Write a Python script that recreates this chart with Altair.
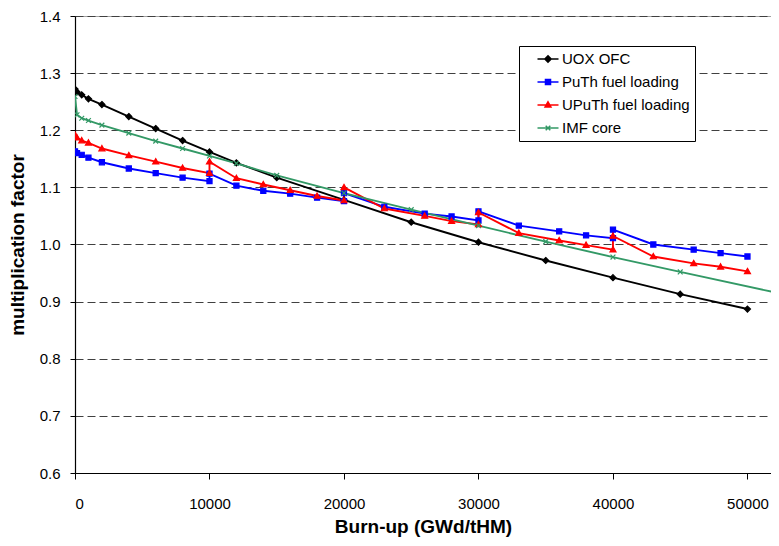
import altair as alt
import pandas as pd

series_names = ["UOX OFC", "PuTh fuel loading", "UPuTh fuel loading", "IMF core"]
series_colors = ["#000000", "#0000FF", "#FF0000", "#339966"]

uox_x = [0, 150, 500, 1000, 2000, 4000, 6000, 8000, 10000, 12000, 15000, 20000,
         25000, 30000, 35000, 40000, 45000, 50000]
uox_y = [1.272, 1.267, 1.262, 1.255, 1.245, 1.224, 1.203, 1.182, 1.162, 1.143, 1.117, 1.078,
         1.039, 1.004, 0.972, 0.942, 0.913, 0.887]

puth_x = [0, 150, 500, 1000, 2000, 4000, 6000, 8000, 10000, 10000, 12000, 14000, 16000, 18000,
          20000, 20000, 23000, 26000, 28000, 30000, 30000, 33000, 36000, 38000, 40000, 40000,
          43000, 46000, 48000, 50000]
puth_y = [1.163, 1.160, 1.157, 1.152, 1.144, 1.133, 1.125, 1.117, 1.111, 1.124, 1.103, 1.094,
          1.089, 1.082, 1.076, 1.090, 1.066, 1.054, 1.049, 1.042, 1.058, 1.033, 1.023, 1.016,
          1.011, 1.026, 1.000, 0.991, 0.985, 0.979]

uputh_x = puth_x
uputh_y = [1.192, 1.187, 1.182, 1.178, 1.168, 1.156, 1.145, 1.134, 1.125, 1.145, 1.116, 1.105,
           1.095, 1.085, 1.077, 1.100, 1.063, 1.050, 1.041, 1.035, 1.056, 1.020, 1.007, 0.999,
           0.991, 1.015, 0.979, 0.967, 0.961, 0.953]

imf_x = [0, 150, 500, 1000, 2000, 4000, 6000, 8000, 10000, 12000, 15000, 20000, 25000, 30000,
         35000, 40000, 45000, 55000]
imf_y = [1.259, 1.227, 1.221, 1.217, 1.209, 1.195, 1.181, 1.168, 1.155, 1.142, 1.121, 1.090,
         1.061, 1.033, 1.005, 0.978, 0.952, 0.901]

y_ticks = [0.6, 0.7, 0.8, 0.9, 1.0, 1.1, 1.2, 1.3, 1.4]
x_ticks = [0, 10000, 20000, 30000, 40000, 50000]

# legend labels padded on the right with non-breaking spaces (widens the legend box)
legend_labels = [n + "\u00a0\u00a0\u00a0\u00a0" for n in series_names]

rows = []
for name, lab, xs, ys in zip(series_names, legend_labels, [uox_x, puth_x, uputh_x, imf_x],
                             [uox_y, puth_y, uputh_y, imf_y]):
    for i, (xv, yv) in enumerate(zip(xs, ys)):
        rows.append({"series": name, "label": lab, "x": xv, "y": yv, "order": i})
df = pd.DataFrame(rows)

FONT = "Liberation Sans"

plot_shapes = [
    "M0,-1L1,0L0,1L-1,0Z",
    "M-0.85,-0.85L0.85,-0.85L0.85,0.85L-0.85,0.85Z",
    "M0,-1L1,0.75L-1,0.75Z",
    "M-0.8,-0.8L0.8,0.8M-0.8,0.8L0.8,-0.8",
]
legend_shapes = [
    "M-1.5,0L1.5,0M0,-0.45L0.45,0L0,0.45L-0.45,0Z",
    "M-1.5,0L1.5,0M-0.36,-0.36L0.36,-0.36L0.36,0.36L-0.36,0.36Z",
    "M-1.5,0L1.5,0M0,-0.45L0.42,0.3L-0.42,0.3Z",
    "M-1.5,0L1.5,0M-0.33,-0.33L0.33,0.33M-0.33,0.33L0.33,-0.33",
]

x_enc = alt.X("x:Q", scale=alt.Scale(domain=[0, 51750], nice=False, zero=False),
              axis=alt.Axis(values=x_ticks, format="d", title="Burn-up (GWd/tHM)",
                            grid=False, tickSize=6, labelPadding=17, titlePadding=6))
y_enc = alt.Y("y:Q", scale=alt.Scale(domain=[0.6, 1.4], nice=False, zero=False),
              axis=alt.Axis(values=y_ticks, format=".1f", title="multiplication factor",
                            grid=True, gridDash=[8, 4], gridColor="#404040", gridWidth=1,
                            tickSize=5, labelPadding=10, titlePadding=12))

color_scale = alt.Scale(domain=series_names, range=series_colors)

lines = alt.Chart(df).mark_line(strokeWidth=1.9, clip=True).encode(
    x=x_enc, y=y_enc,
    color=alt.Color("series:N", scale=color_scale, legend=None),
    detail="series:N",
    order="order:Q",
)

points = alt.Chart(df).mark_point(filled=True, strokeWidth=1.2, opacity=1, clip=True).encode(
    x="x:Q", y="y:Q",
    color=alt.Color("series:N", scale=color_scale, legend=None),
    stroke=alt.Stroke("series:N", scale=color_scale, legend=None),
    shape=alt.Shape("series:N", scale=alt.Scale(domain=series_names, range=plot_shapes),
                    legend=None),
    size=alt.value(36),
)

leg = alt.Legend(title=None, orient="none", legendX=444, legendY=30,
                 labelFont=FONT, labelFontSize=15, labelColor="#000000",
                 symbolSize=196, symbolStrokeWidth=1.5, rowPadding=7,
                 strokeColor="#000000", fillColor="#ffffff", padding=5,
                 labelLimit=300, symbolOffset=16, labelOffset=6)

legend_layer = alt.Chart(df).transform_filter("datum.x < 0").mark_point(
    filled=True, opacity=1, strokeWidth=1.5).encode(
    x="x:Q", y="y:Q",
    color=alt.Color("label:N", scale=alt.Scale(domain=legend_labels, range=series_colors),
                    legend=leg),
    stroke=alt.Stroke("label:N", scale=alt.Scale(domain=legend_labels, range=series_colors),
                      legend=leg),
    shape=alt.Shape("label:N", scale=alt.Scale(domain=legend_labels, range=legend_shapes),
                    legend=leg),
)

chart = alt.layer(lines, points, legend_layer).resolve_scale(
    color="independent", stroke="independent", shape="independent"
).properties(
    width=696, height=457,
    autosize=alt.AutoSizeParams(type="none"),
    padding={"left": 67, "top": 8, "right": 0, "bottom": 65},
    background="#ffffff",
).configure_view(
    stroke="#a0a0a0", strokeWidth=1
).configure_axis(
    domainColor="#000000", tickColor="#000000", domainWidth=1.2,
    labelFont=FONT, labelFontSize=15, labelColor="#000000",
    titleFont=FONT, titleFontSize=19, titleFontWeight="bold", titleColor="#000000",
)

chart.save("out.html", embed_options={"renderer": "svg", "actions": False})
